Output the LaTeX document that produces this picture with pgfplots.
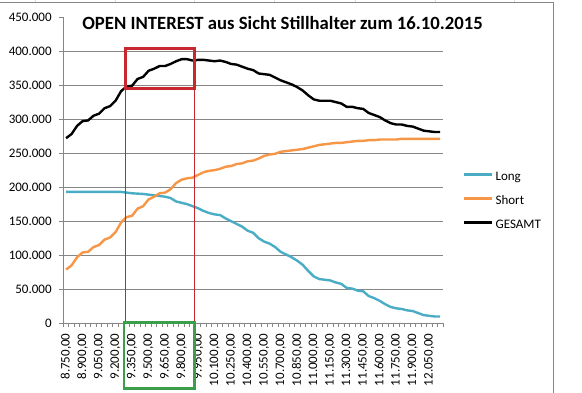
\documentclass[border=0pt]{standalone}
\usepackage{pgfplots}
\usepackage{pgfplotstable}
\pgfplotsset{compat=1.18}
\usepackage{fontspec}
\setmainfont{Carlito}
\definecolor{longc}{HTML}{4BACC6}
\definecolor{shortc}{HTML}{F79646}
\definecolor{gridc}{HTML}{868686}
\definecolor{redbox}{HTML}{C8282D}
\definecolor{redline}{HTML}{C8262D}
\definecolor{greenbox}{HTML}{3A9E4A}

\pgfplotstableread{
idx long short gesamt
0 193000 79000 272000
1 193000 85000 278000
2 193000 97000 290000
3 193000 104000 297000
4 193000 105000 298000
5 193000 112000 305000
6 193000 115000 308000
7 193000 123000 316000
8 193000 126000 319000
9 193000 134000 327000
10 193000 148000 341000
11 192000 156000 348000
12 191000 158000 349000
13 190500 168500 359000
14 190000 172000 362000
15 189000 182000 371000
16 188000 186000 374000
17 187000 191000 378000
18 186000 192000 378000
19 184000 197000 381000
20 179000 206000 385000
21 177000 211000 388000
22 175000 213000 388000
23 172000 214000 386000
24 169000 218000 387000
25 165000 222000 387000
26 162000 224000 386000
27 160000 225000 385000
28 159000 227000 386000
29 154000 230000 384000
30 150000 231000 381000
31 146000 234000 380000
32 142000 235000 377000
33 136000 238000 374000
34 133000 239000 372000
35 125000 242000 367000
36 120000 246000 366000
37 117000 248000 365000
38 112000 249000 361000
39 105000 252000 357000
40 101000 253000 354000
41 97000 254000 351000
42 92000 255000 347000
43 86000 256000 342000
44 77000 258000 335000
45 69000 260000 329000
46 65000 262000 327000
47 64000 263000 327000
48 63000 264000 327000
49 60000 265000 325000
50 58000 265000 323000
51 52000 266000 318000
52 51000 267000 318000
53 48000 268000 316000
54 47000 268000 315000
55 40000 269000 309000
56 37000 269000 306000
57 33000 270000 303000
58 28000 270000 298000
59 24000 270000 294000
60 22000 270000 292000
61 21000 271000 292000
62 19000 271000 290000
63 18000 271000 289000
64 15000 271000 286000
65 12000 271000 283000
66 11000 271000 282000
67 10000 271000 281000
68 10000 271000 281000
}\oidata

\begin{document}
\begin{tikzpicture}
\path[use as bounding box] (0,0) rectangle (582pt,393pt);
\foreach \xx in {35,115,194,274,355,435,514}{
  \draw[gray!25, line width=0.6pt] (\xx pt,390.3pt) -- (\xx pt,393pt);
}
\draw[gridc, line width=0.9pt] (0,390.3pt) -- (553pt,390.3pt) -- (553pt,0);
\begin{axis}[
  at={(63.3pt,69.7pt)}, anchor=south west,
  width=379.7pt, height=306.3pt, scale only axis,
  xmin=-0.5, xmax=68.5, ymin=0, ymax=450000,
  axis lines=left,
  axis line style={-, gridc, line width=0.8pt},
  clip=false,
  font=\fontsize{13pt}{15pt}\selectfont,
  /pgf/number format/assume math mode=true,
  scaled y ticks=false,
  ytick={0,50000,...,400000},
  extra y ticks={450000},
  extra y tick style={grid=none},
  ymajorgrids,
  major grid style={gridc, line width=0.8pt},
  tick align=outside,
  major tick length=4pt,
  minor tick length=4pt,
  ytick style={gridc, line width=0.8pt},
  yticklabel style={inner sep=0pt, xshift=-7.5pt, /pgf/number format/.cd, fixed, precision=0, 1000 sep={.}},
  xtick={0,3,...,66},
  minor xtick={-0.5,0.5,...,68.5},
  major x tick style={draw=none},
  minor x tick style={gridc, line width=0.8pt},
  xticklabels={8.750{,}00,8.900{,}00,9.050{,}00,9.200{,}00,9.350{,}00,9.500{,}00,9.650{,}00,9.800{,}00,9.950{,}00,10.100{,}00,10.250{,}00,10.400{,}00,10.550{,}00,10.700{,}00,10.850{,}00,11.000{,}00,11.150{,}00,11.300{,}00,11.450{,}00,11.600{,}00,11.750{,}00,11.900{,}00,12.050{,}00},
  xticklabel style={yshift=-6pt, rotate=90, anchor=east, inner sep=0pt},
  legend cell align=left,
  legend image code/.code={\draw[#1, line width=2.4pt] (0pt,3.5pt) -- (28pt,3.5pt);},
  legend style={at={(1.0527,0.4946)}, anchor=north west, draw=none, fill=none,
    font=\fontsize{13pt}{15pt}\selectfont, inner sep=0pt, row sep=12pt, column sep=2pt,
    nodes={inner sep=0pt, text height=9pt, text depth=3pt}},
]
\addplot[longc, line width=2.4pt, line join=round] table[x=idx, y=long] {\oidata};
\addplot[shortc, line width=2.4pt, line join=round] table[x=idx, y=short] {\oidata};
\addplot[black, line width=2.4pt, line join=round] table[x=idx, y=gesamt] {\oidata};
\legend{Long, Short, GESAMT}
\draw[redline, line width=1.3pt] (axis cs:10.82,0) -- (axis cs:10.82,345500);
\draw[redline, line width=1.3pt] (axis cs:23.29,0) -- (axis cs:23.29,345500);
\draw[redbox, line width=3pt] (axis cs:10.8,345500) rectangle (axis cs:23.29,403000);
\draw[greenbox, line width=2.7pt] (axis cs:10.53,900) rectangle (axis cs:23.34,-96300);
\end{axis}
\node[font=\fontsize{18.7pt}{22pt}\selectfont\bfseries, anchor=base, inner sep=0pt] at (282.5pt,363pt) {OPEN INTEREST aus Sicht Stillhalter zum 16.10.2015};
\end{tikzpicture}
\end{document}
